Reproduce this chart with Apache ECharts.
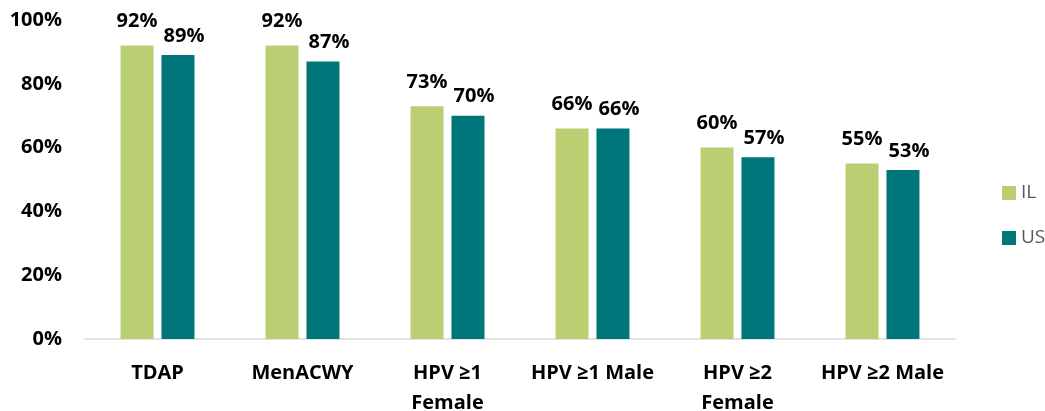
<!DOCTYPE html>
<html>
<head>
<meta charset="utf-8">
<script src="https://cdn.jsdelivr.net/npm/echarts@6/dist/echarts.min.js"></script>
<style>html,body{margin:0;padding:0;background:#fff}#c{width:1045px;height:411px}</style>
</head>
<body>
<div id="c"></div>
<script>
const categories = ['TDAP', 'MenACWY', 'HPV ≥1 Female', 'HPV ≥1 Male', 'HPV ≥2 Female', 'HPV ≥2 Male'];
const ilValues = [92, 92, 73, 66, 60, 55];
const usValues = [89, 87, 70, 66, 57, 53];
const yTicks = [0, 20, 40, 60, 80, 100];

const FONT = '"Open Sans", "Liberation Sans", sans-serif';
const chart = echarts.init(document.getElementById('c'));
const baseLabel = {
  show: true, position: 'top',
  formatter: p => p.value + '%',
  fontFamily: FONT, fontWeight: 'bold', fontSize: 20, color: '#000'
};
chart.setOption({
  animation: false,
  grid: { left: 85, right: 90, top: 20, bottom: 72, containLabel: false, outerBoundsMode: 'none' },
  legend: {
    orient: 'vertical', left: 997, top: 178, itemWidth: 14, itemHeight: 14, itemGap: 25,
    icon: 'rect',
    textStyle: { fontFamily: FONT, fontSize: 19, lineHeight: 20, color: '#595959' },
    data: ['IL', 'US']
  },
  xAxis: {
    type: 'category', data: categories,
    axisLine: { lineStyle: { color: '#d9d9d9', width: 1.5 } },
    axisTick: { show: false },
    axisLabel: {
      interval: 0, margin: 19, lineHeight: 30,
      fontFamily: FONT, fontWeight: 'bold', fontSize: 20, color: '#000',
      formatter: v => v.replace(' Female', '\nFemale')
    }
  },
  yAxis: {
    type: 'value', min: yTicks[0], max: yTicks[yTicks.length - 1], interval: 20,
    axisLine: { show: false }, axisTick: { show: false }, splitLine: { show: false },
    axisLabel: {
      margin: 23, fontFamily: FONT, fontWeight: 'bold', fontSize: 20, color: '#000',
      formatter: v => v + '%'
    }
  },
  series: [
    { name: 'IL', type: 'bar', data: ilValues, barWidth: 33, barGap: '24%',
      itemStyle: { color: '#BACF71' }, label: Object.assign({}, baseLabel, { distance: 14 }) },
    { name: 'US', type: 'bar', data: usValues, barWidth: 33, barGap: '24%',
      itemStyle: { color: '#00757A' }, label: Object.assign({}, baseLabel, { distance: 9, offset: [6, 0] }) }
  ]
});
</script>
</body>
</html>
